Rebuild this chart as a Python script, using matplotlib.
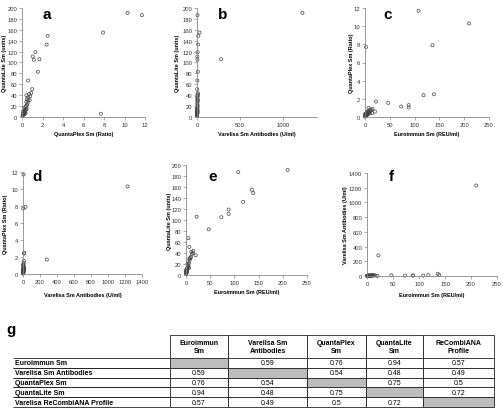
import matplotlib
matplotlib.use("Agg")
import matplotlib.pyplot as plt
from matplotlib.table import Table

plt.rcParams['font.family'] = ['Liberation Sans', 'DejaVu Sans']

# one entry per serum sample: Euroimmun, Varelisa, QuantaPlex, QuantaLite
euro = [210, 108, 136, 2, 22, 118, 139, 88, 88, 73, 47, 20, 5, 7,
        0.5, 1.0, 0.3, 1.5, 0.8, 2.0, 1.2, 0.6, 2.5, 1.8, 3.0, 0.4, 2.2, 4.0, 1.1, 3.5,
        5.0, 2.8, 6.0, 4.5, 8.0, 7.0, 9.0, 10.0, 12.0, 14.0, 11.0, 15.0, 0.2, 1.4, 3.8, 6.5]
varelisa = [1230, 6, 30, 3, 280, 12, 15, 8, 4, 5, 10, 2, 4, 1,
            1.2, 0.8, 2.0, 1.5, 3.0, 2.5, 0.5, 1.0, 4.0, 2.2, 3.5, 1.8, 5.0, 2.8, 6.0, 3.2,
            4.5, 7.0, 5.5, 3.8, 6.5, 8.0, 5.0, 7.5, 9.0, 6.0, 10.0, 8.5, 0.3, 1.1, 2.0, 4.0]
qplex = [10.3, 11.7, 7.9, 7.7, 1.7, 2.4, 2.5, 1.3, 1.05, 1.15, 1.55, 0.6, 0.6, 1.0,
         0.08, 0.12, 0.15, 0.10, 0.20, 0.18, 0.25, 0.22, 0.30, 0.14, 0.28, 0.35, 0.16, 0.40, 0.26, 0.45,
         0.32, 0.38, 0.50, 0.55, 0.42, 0.60, 0.75, 0.48, 0.80, 0.43, 0.70, 0.90, 0.05, 0.09, 0.20, 0.30]
qlite = [191, 187, 155, 6, 106, 133, 149, 119, 111, 105, 83, 36, 67, 51,
         3, 4, 5, 6, 7, 8, 5, 9, 10, 6, 11, 7, 12, 14, 9, 15,
         18, 20, 22, 25, 28, 30, 31, 33, 38, 40, 42, 44, 2, 10, 16, 13]

# correlation table
col_labels = ['Euroimmun\nSm', 'Varelisa Sm\nAntibodies', 'QuantaPlex\nSm', 'QuantaLite\nSm', 'ReCombiANA\nProfile']
row_labels = ['Euroimmun Sm', 'Varelisa Sm Antibodies', 'QuantaPlex Sm', 'QuantaLite Sm', 'Varelisa ReCombiANA Profile']
corr = [['', '0.59', '0.76', '0.94', '0.57'],
        ['0.59', '', '0.54', '0.48', '0.49'],
        ['0.76', '0.54', '', '0.75', '0.5'],
        ['0.94', '0.48', '0.75', '', '0.72'],
        ['0.57', '0.49', '0.5', '0.72', '']]

W, H = 504, 414
fig = plt.figure(figsize=(W / 100, H / 100), dpi=100)

def px_axes(left, right, top, bottom):
    return fig.add_axes([left / W, 1 - bottom / H, (right - left) / W, (bottom - top) / H])

panels = [
    # x, y, xlim, xticks, ylim, yticks, xlabel, ylabel, letter, box, letter pos, label px (ylab x, xlab y)
    (qplex, qlite, 12, range(0, 13, 2), 200, range(0, 201, 20), 'QuantaPlex Sm (Ratio)',
     'QuantaLite Sm (units)', 'a', (22, 145, 9, 118), (0.2, 0.945), (5, 135)),
    (varelisa, qlite, 1400, [0, 500, 1000], 200, range(0, 201, 20), 'Varelisa Sm Antibodies (U/ml)',
     'QuantaLite Sm (units)', 'b', (197, 317, 9, 118), (0.21, 0.945), (177, 135)),
    (euro, qplex, 250, range(0, 251, 50), 12, range(0, 13, 2), 'Euroimmun Sm (REU/ml)',
     'QuantaPlex Sm (Ratio)', 'c', (365, 489, 9, 118), (0.18, 0.945), (351, 135)),
    (varelisa, qplex, 1400, range(0, 1401, 200), 12, range(0, 13, 2), 'Varelisa Sm Antibodies (U/ml)',
     'QuantaPlex Sm (Ratio)', 'd', (23, 142, 173, 275), (0.12, 0.96), (6, 296)),
    (euro, qlite, 250, range(0, 251, 50), 200, range(0, 201, 20), 'Euroimmun Sm (REU/ml)',
     'QuantaLite Sm (units)', 'e', (186, 307, 166, 276), (0.22, 0.9), (169, 293)),
    (euro, varelisa, 250, range(0, 251, 50), 1400, range(0, 1401, 200), 'Euroimmun Sm (REU/ml)',
     'Varelisa Sm Antibodies (U/ml)', 'f', (367, 497, 174, 277), (0.19, 0.97), (345, 296)),
]

for x, y, xmax, xt, ymax, yt, xl, yl, letter, box, lpos, lab in panels:
    ax = px_axes(*box)
    ax.scatter(x, y, s=5, facecolors='none', edgecolors='#444444', linewidths=0.5, clip_on=False)
    ax.set_xlim(0, xmax)
    ax.set_ylim(0, ymax)
    ax.set_xticks(list(xt))
    ax.set_yticks(list(yt))
    for s in ['top', 'right']:
        ax.spines[s].set_visible(False)
    for s in ['left', 'bottom']:
        ax.spines[s].set_color('#888888')
        ax.spines[s].set_linewidth(0.6)
    ax.tick_params(labelsize=4.2, length=2, width=0.5, color='#888888', pad=1.5, labelcolor='#333333')
    ax.set_xlabel(xl, fontsize=4, fontweight='bold')
    ax.set_ylabel(yl, fontsize=4, fontweight='bold')
    left, right, top, bottom = box
    ax.yaxis.set_label_coords((lab[0] - left) / (right - left), 0.5)
    ax.xaxis.set_label_coords(0.5, (bottom - lab[1]) / (bottom - top))
    ax.yaxis.label.set_va('center')
    ax.xaxis.label.set_va('center')
    ax.text(lpos[0], lpos[1], letter, transform=ax.transAxes, fontsize=11,
            fontweight='bold', ha='center', va='center')

fig.text(6 / W, 1 - 330 / H, 'g', fontsize=11, fontweight='bold', ha='left', va='center')

# table
tax = px_axes(13, 494, 336, 408)
tax.axis('off')
widths_px = [157, 58, 79, 59, 57, 71]
total = sum(widths_px)
tbl = Table(tax, bbox=[0, 0, 1, 1])
for r in range(len(row_labels) + 1):
    h = 23 if r == 0 else 9.8
    for c in range(len(widths_px)):
        w = widths_px[c] / total
        if r == 0:
            txt = '' if c == 0 else col_labels[c - 1]
            cell = tbl.add_cell(r, c, w, h, text=txt, loc='center')
            cell.set_text_props(fontsize=5, fontweight='bold')
            cell.visible_edges = '' if c == 0 else 'TLR'
        elif c == 0:
            cell = tbl.add_cell(r, c, w, h, text=row_labels[r - 1], loc='left')
            cell.set_text_props(fontsize=5, fontweight='bold')
            cell.PAD = 0.01
            cell.visible_edges = 'TB'
        else:
            fc = '#bdbdbd' if r - 1 == c - 1 else 'white'
            cell = tbl.add_cell(r, c, w, h, text=corr[r - 1][c - 1], loc='center', facecolor=fc)
            cell.set_text_props(fontsize=5)
        cell.set_linewidth(0.6)
        cell.set_edgecolor('#222222')
tbl.auto_set_font_size(False)
tax.add_table(tbl)

fig.savefig('out.png', dpi=100)
